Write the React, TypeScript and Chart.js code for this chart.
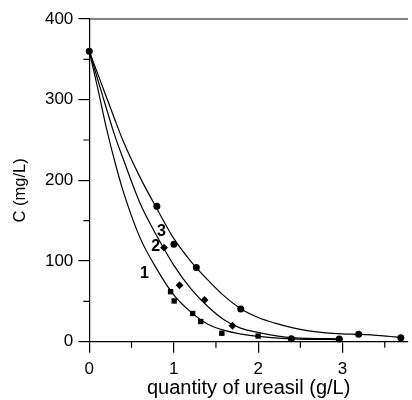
import React, { useEffect, useRef } from "react";
import { Chart, registerables } from "chart.js";

Chart.register(...registerables);

// ---- data ----
// fitted curves
const curve1X = [0, 0.1, 0.2, 0.3, 0.4, 0.6, 0.8, 1.0, 1.2, 1.4, 1.6, 1.8, 2.0, 2.4, 3.0];
const curve1Y = [360, 314, 266, 224, 187, 129, 90, 58, 37, 22, 14, 9.5, 6.5, 3.5, 2.5];
const curve2X = [0, 0.1, 0.2, 0.3, 0.4, 0.6, 0.8, 1.0, 1.2, 1.4, 1.6, 1.8, 2.0, 2.4, 3.0];
const curve2Y = [360, 325, 290, 256, 227, 172, 131, 95, 66, 44, 27, 16.5, 11.5, 5, 3.5];
const curve3X = [0, 0.1, 0.2, 0.3, 0.4, 0.6, 0.8, 1.0, 1.2, 1.4, 1.6, 1.8, 2.0, 2.2, 2.4, 2.6, 2.8, 3.0, 3.2, 3.45, 3.7];
const curve3Y = [360, 332, 304, 276, 249, 204, 165, 128, 100, 77, 56.5, 40.5, 30, 23, 17.5, 13.5, 11, 9.7, 9, 7.5, 5];

// measured points
const squaresX = [0.963, 1.005, 1.225, 1.32, 1.57, 2.0];
const squaresY = [62, 50.5, 35, 25, 10.5, 7];
const diamondsX = [0.885, 1.069, 1.365, 1.696];
const diamondsY = [116.5, 70, 51.7, 19.8];
const circlesX = [0, 0.8, 1.002, 1.268, 1.794, 2.394, 2.96, 3.19, 3.69];
const circlesY = [360, 168, 120.7, 92, 40.5, 3.7, 3.3, 9.1, 5];

// curve labels
const curveLabels = ["1", "2", "3"];
const curveLabelX = [0.653, 0.786, 0.856];
const curveLabelY = [84, 117.7, 136.3];

// axes
const xMin = 0;
const xMax = 3.775;
const yMin = 0;
const yMax = 400;
const xMinorTicks = [0.5, 1.5, 2.5, 3.5];
const yMinorTicks = [50, 150, 250, 350];
const xTitle = "quantity of ureasil (g/L)";
const yTitle = "C (mg/L)";

const FONT = "'Liberation Sans', Arial, sans-serif";

const pts = (xs: number[], ys: number[]) => xs.map((x, i) => ({ x, y: ys[i] }));

const decorPlugin = {
  id: "decor",
  afterDraw(chart: any) {
    const { ctx, chartArea, scales } = chart;
    const xs = scales.x;
    const ys = scales.y;
    ctx.save();
    ctx.strokeStyle = "#000";
    ctx.lineWidth = 1.2;
    // top frame line
    const yTop = ys.getPixelForValue(yMax);
    ctx.beginPath();
    ctx.moveTo(chartArea.left, yTop);
    ctx.lineTo(chartArea.right, yTop);
    ctx.stroke();
    // minor ticks
    ctx.beginPath();
    yMinorTicks.forEach((v) => {
      const py = ys.getPixelForValue(v);
      ctx.moveTo(chartArea.left - 6, py);
      ctx.lineTo(chartArea.left, py);
    });
    xMinorTicks.forEach((v) => {
      const px = xs.getPixelForValue(v);
      ctx.moveTo(px, chartArea.bottom);
      ctx.lineTo(px, chartArea.bottom + 6);
    });
    ctx.stroke();
    // curve labels
    ctx.fillStyle = "#000";
    ctx.font = `bold 16px ${FONT}`;
    ctx.textAlign = "center";
    ctx.textBaseline = "middle";
    curveLabels.forEach((t, i) => {
      ctx.fillText(t, xs.getPixelForValue(curveLabelX[i]), ys.getPixelForValue(curveLabelY[i]));
    });
    // y title
    ctx.font = `16.5px ${FONT}`;
    ctx.translate(20, (chartArea.top + chartArea.bottom) / 2 + 10);
    ctx.rotate(-Math.PI / 2);
    ctx.fillText(yTitle, 0, 0);
    ctx.restore();
  },
};

export default function App() {
  const ref = useRef<HTMLCanvasElement | null>(null);
  useEffect(() => {
    if (!ref.current) return;
    const lineDs = (xs: number[], ys: number[]) => ({
      data: pts(xs, ys),
      showLine: true,
      borderColor: "#000",
      borderWidth: 1.2,
      pointRadius: 0,
      cubicInterpolationMode: "monotone" as const,
      fill: false,
    });
    const markerDs = (xs: number[], ys: number[], style: string, r: number) => ({
      data: pts(xs, ys),
      showLine: false,
      pointStyle: style,
      pointRadius: r,
      backgroundColor: "#000",
      borderColor: "#000",
      borderWidth: 0,
      clip: false,
    });
    const chart = new Chart(ref.current, {
      type: "scatter",
      data: {
        datasets: [
          lineDs(curve1X, curve1Y),
          lineDs(curve2X, curve2Y),
          lineDs(curve3X, curve3Y),
          markerDs(squaresX, squaresY, "rect", 3.8),
          markerDs(diamondsX, diamondsY, "rectRot", 3.9),
          markerDs(circlesX, circlesY, "circle", 3.5),
        ] as any,
      },
      options: {
        animation: false,
        responsive: false,
        maintainAspectRatio: false,
        layout: { padding: { top: 19, right: 0, left: 0, bottom: 0 } },
        plugins: { legend: { display: false }, tooltip: { enabled: false } },
        events: [],
        scales: {
          x: {
            type: "linear",
            min: xMin,
            max: xMax,
            afterFit: (s: any) => {
              s.height = 58.3;
            },
            ticks: {
              stepSize: 1,
              includeBounds: false,
              color: "#000",
              font: { family: FONT, size: 17 },
              padding: 6,
              maxRotation: 0,
            },
            grid: { display: true, drawOnChartArea: false, drawTicks: true, tickLength: 11, color: "#000", lineWidth: 1.2 },
            border: { display: true, color: "#000", width: 1.2 },
            title: {
              display: true,
              text: xTitle,
              color: "#000",
              font: { family: FONT, size: 20 },
              padding: { top: 0, bottom: 0 },
            },
          },
          y: {
            type: "linear",
            min: yMin,
            max: yMax,
            afterFit: (s: any) => {
              s.width = 89.3;
            },
            ticks: {
              stepSize: 100,
              color: "#000",
              font: { family: FONT, size: 17 },
              padding: 5,
            },
            grid: { display: true, drawOnChartArea: false, drawTicks: true, tickLength: 11, color: "#000", lineWidth: 1.2 },
            border: { display: true, color: "#000", width: 1.2 },
          },
        },
      } as any,
      plugins: [decorPlugin],
    });
    return () => chart.destroy();
  }, []);
  return (
    <div style={{ position: "absolute", left: 0, top: 0, width: 412, height: 400, background: "#fff" }}>
      <canvas ref={ref} width={412} height={400} style={{ display: "block" }} />
    </div>
  );
}
